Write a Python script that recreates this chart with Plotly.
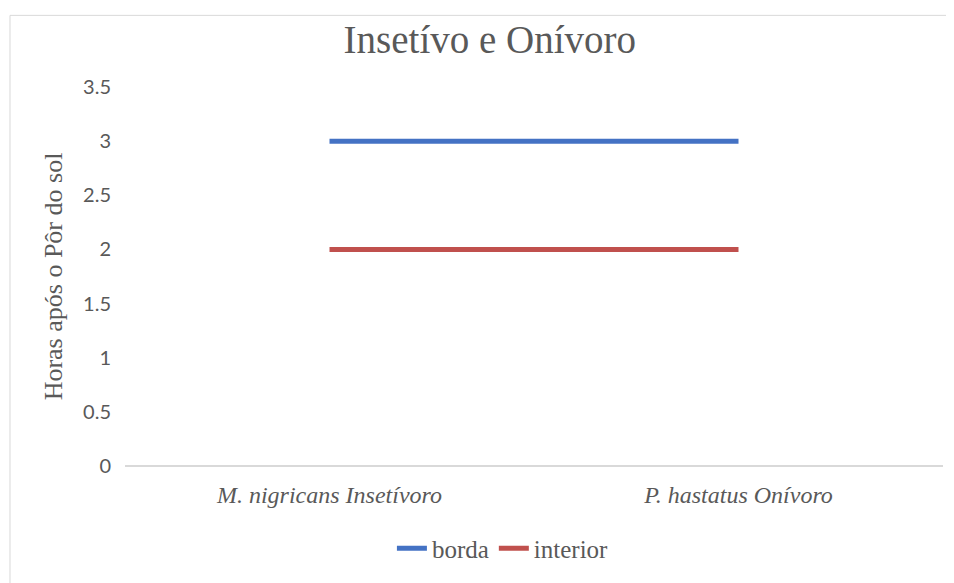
import plotly.graph_objects as go

categories = ["M. nigricans Insetívoro", "P. hastatus Onívoro"]
borda = [3, 3]
interior = [2, 2]
y_ticks = [0, 0.5, 1, 1.5, 2, 2.5, 3, 3.5]

FONT = "Liberation Serif"
SANS = "Lato"
GREY = "#595959"

fig = go.Figure()
fig.add_trace(go.Scatter(x=[0, 1], y=borda, mode="lines", name="borda",
                         line=dict(color="#4472C4", width=5)))
fig.add_trace(go.Scatter(x=[0, 1], y=interior, mode="lines", name="interior",
                         line=dict(color="#C0504D", width=5)))

fig.update_layout(
    width=946, height=575,
    margin=dict(l=117, r=11, t=79, b=115),
    paper_bgcolor="white", plot_bgcolor="white",
    font=dict(family=FONT, color=GREY),
    title=dict(text="Insetívo e Onívoro", x=0.446, xref="paper", xanchor="center",
               y=0.945, yanchor="middle", font=dict(size=39, color=GREY, family=FONT)),
    showlegend=True,
    legend=dict(orientation="h", x=0.462, xanchor="center", y=-0.218, yanchor="middle",
                font=dict(size=25, color=GREY, family=FONT), itemwidth=30,
                tracegroupgap=0, itemsizing="constant"),
    xaxis=dict(range=[-0.5, 1.5], tickmode="array", tickvals=[0, 1], ticktext=categories,
               tickfont=dict(size=24, color=GREY, family=FONT, style="italic"),
               showgrid=False, zeroline=False, showline=False,
               ticks="outside", ticklen=7, tickcolor="rgba(0,0,0,0)"),
    yaxis=dict(range=[0, 3.5], tickmode="array", tickvals=y_ticks,
               ticktext=[f"{v:g}" for v in y_ticks],
               tickfont=dict(size=20, color=GREY, family=SANS),
               showgrid=False, zeroline=True, zerolinecolor="#D9D9D9", zerolinewidth=2,
               showline=False, ticks="outside", ticklen=9, tickcolor="rgba(0,0,0,0)",
               title=dict(text="Horas após o Pôr do sol", standoff=12,
                          font=dict(size=26, color=GREY, family=FONT))),
    shapes=[dict(type="rect", xref="paper", yref="paper",
                 x0=-0.1406, x1=1.1, y0=-0.4, y1=1.189,
                 line=dict(color="#D9D9D9", width=1), fillcolor="rgba(0,0,0,0)", layer="below")],
)

fig.write_html("out.html")
